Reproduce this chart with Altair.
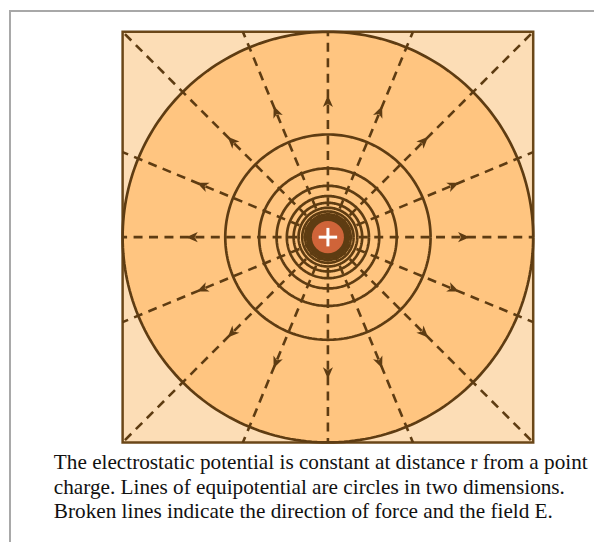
import altair as alt
import numpy as np
import pandas as pd

# ---------------- data ----------------
# equipotential circle radii (fraction of the outer radius = half square side)
circle_radii = [1.0, 0.5, 0.335, 0.25, 0.2, 0.167, 0.143, 0.125, 0.111, 0.1, 0.091, 0.083]
# field line directions (degrees, counter-clockwise from +x)
field_angles = [0, 22.5, 45, 67.5, 90, 112.5, 135, 157.5, 180, 202.5, 225, 247.5, 270, 292.5, 315, 337.5]
arrow_distance = 0.66          # distance of arrowheads from the charge
charge_ring_radius = 0.106     # dark ring around the charge
charge_radius = 0.078          # charge disc
plus_half = 0.045              # half-length of the "+" arms
caption_lines = [
    "The electrostatic potential is constant at distance r from a point",
    "charge. Lines of equipotential are circles in two dimensions.",
    "Broken lines indicate the direction of force and the field E.",
]

# ---------------- styles ----------------
SIDE = 412
BROWN = "#5E3C12"
LIGHT = "#FCDDB6"
ORANGE = "#FFC580"
CHARGE = "#CF6439"
GRAY = "#A8A8A8"

xs = alt.Scale(domain=[-1, 1], range=[0, SIDE])
ys = alt.Scale(domain=[-1, 1], range=[SIDE, 0])
rs = alt.Scale(type="linear", domain=[0, 1], range=[0, SIDE / 2], zero=True)

# ---------------- derived tables ----------------
t = np.linspace(0, 2 * np.pi, 241)
circ_rows = []
for k, r in enumerate(circle_radii):
    for i, tt in enumerate(t):
        circ_rows.append({"c": k, "i": i, "x": r * np.cos(tt), "y": r * np.sin(tt)})
circ_df = pd.DataFrame(circ_rows)

ang = np.radians(field_angles)
reach = 1.0 / np.maximum(np.abs(np.cos(ang)), np.abs(np.sin(ang)))
field_df = pd.DataFrame({
    "x0": 0.0, "y0": 0.0,
    "x1": reach * np.cos(ang), "y1": reach * np.sin(ang),
    "ax": arrow_distance * np.cos(ang), "ay": arrow_distance * np.sin(ang),
    "rot": [(90 - a) % 360 for a in field_angles],
})

disc_df = pd.DataFrame({"x": [0.0], "y": [0.0], "r_big": [circle_radii[0]],
                        "r_ring": [charge_ring_radius], "r_q": [charge_radius]})
plus_df = pd.DataFrame({"x": [-plus_half, 0.0], "y": [0.0, -plus_half],
                        "x2": [plus_half, 0.0], "y2": [0.0, plus_half]})

cap_df = pd.DataFrame({"text": caption_lines,
                       "py": [439 + 24.5 * i for i in range(len(caption_lines))]})

base = alt.Chart(disc_df)

big_fill = base.mark_arc(fill=ORANGE, theta=0, theta2=6.2832).encode(
    x=alt.X("x:Q", scale=xs, axis=None),
    y=alt.Y("y:Q", scale=ys, axis=None),
    radius=alt.Radius("r_big:Q", scale=rs),
)

lines = alt.Chart(field_df).mark_rule(
    color=BROWN, strokeWidth=2.6, strokeDash=[9, 6.5]
).encode(
    x=alt.X("x0:Q", scale=xs), y=alt.Y("y0:Q", scale=ys),
    x2="x1:Q", y2="y1:Q",
)

circles = alt.Chart(circ_df).mark_line(color=BROWN, strokeWidth=2.7).encode(
    x=alt.X("x:Q", scale=xs), y=alt.Y("y:Q", scale=ys),
    detail="c:N", order="i:Q",
)

arrows = alt.Chart(field_df).mark_point(
    shape="M0,-1L0.8,0.85L0,0.35L-0.8,0.85Z", filled=True, fill=BROWN,
    opacity=1, size=160, strokeWidth=0,
).encode(
    x=alt.X("ax:Q", scale=xs), y=alt.Y("ay:Q", scale=ys),
    angle=alt.Angle("rot:Q", scale=None),
)

ring = base.mark_arc(fill=BROWN, theta=0, theta2=6.2832).encode(
    x=alt.X("x:Q", scale=xs), y=alt.Y("y:Q", scale=ys),
    radius=alt.Radius("r_ring:Q", scale=rs),
)
qdisc = base.mark_arc(fill=CHARGE, theta=0, theta2=6.2832).encode(
    x=alt.X("x:Q", scale=xs), y=alt.Y("y:Q", scale=ys),
    radius=alt.Radius("r_q:Q", scale=rs),
)
plus = alt.Chart(plus_df).mark_rule(color="white", strokeWidth=3).encode(
    x=alt.X("x:Q", scale=xs), y=alt.Y("y:Q", scale=ys), x2="x2:Q", y2="y2:Q",
)

caption = alt.Chart(cap_df).mark_text(
    align="left", baseline="alphabetic", font="Liberation Serif",
    fontSize=21.3, color="#111111",
).encode(
    x=alt.value(-69), y=alt.Y("py:Q", scale=None), text="text:N",
)

frame_top = alt.Chart(disc_df).mark_rule(color=GRAY, strokeWidth=2).encode(
    x=alt.value(-114), x2=alt.value(473), y=alt.value(-21),
)
frame_left = alt.Chart(disc_df).mark_rule(color=GRAY, strokeWidth=2).encode(
    x=alt.value(-113), y=alt.value(-22), y2=alt.value(512),
)

chart = alt.layer(
    big_fill, lines, circles, arrows, ring, qdisc, plus, caption, frame_top, frame_left
).properties(
    width=SIDE, height=SIDE, padding=0, background="white",
).configure_view(
    fill=LIGHT, stroke="#6B4718", strokeWidth=2.5,
)

chart.save("out.html", embed_options={"renderer": "svg", "actions": False})
